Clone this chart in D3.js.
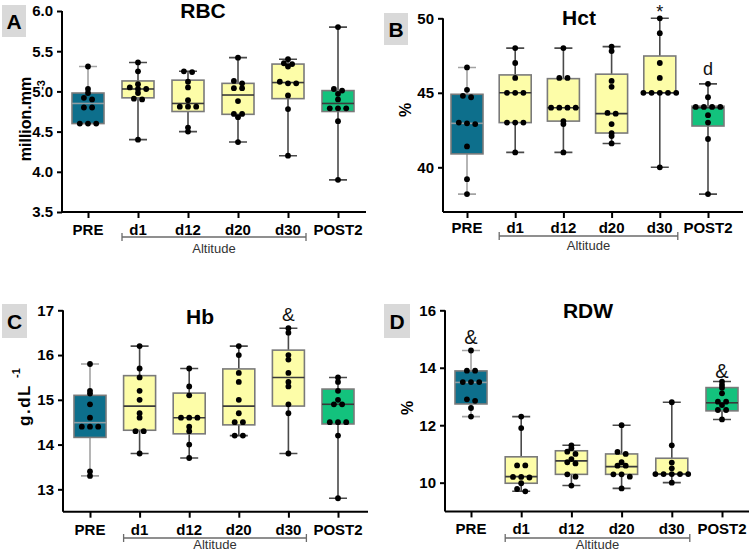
<!DOCTYPE html>
<html><head><meta charset="utf-8">
<script src="https://cdn.jsdelivr.net/npm/d3@7"></script>
<style>
html,body{margin:0;padding:0;background:#fff;}
svg{display:block;font-family:"Liberation Sans",Arial,sans-serif;}
</style></head>
<body>
<svg id="chart" width="749" height="552"></svg>
<script>
const categories = ["PRE","d1","d12","d20","d30","POST2"];
const groupLabel = "Altitude";

const rbcValues = [
  [5.31,5.03,4.98,4.92,4.90,4.80,4.80,4.60,4.60,4.60],
  [5.36,5.25,5.09,5.05,5.03,5.03,4.98,4.91,4.90,4.40],
  [5.25,5.24,5.12,5.05,4.89,4.81,4.81,4.81,4.55,4.50],
  [5.42,5.13,5.10,5.04,5.04,4.88,4.72,4.72,4.68,4.37],
  [5.40,5.35,5.34,5.31,5.12,5.10,5.10,4.95,4.78,4.20],
  [5.80,5.03,5.01,4.97,4.90,4.79,4.79,4.79,4.63,3.90]
];
const rbcBox = [[4.60,4.85,4.98],[4.92,5.03,5.13],[4.75,4.85,5.14],[4.715,4.955,5.10],[4.91,5.11,5.34],[4.75,4.85,5.01]];
const rbcTicks = [3.5,4.0,4.5,5.0,5.5,6.0];

const hctValues = [
  [46.7,45.2,44.8,44.7,43.0,42.95,42.9,41.4,39.2,38.2],
  [48,47,46,45,45,45,43,43,43,41],
  [48,46,46,44,44,44,44,43.1,42.9,41],
  [48.1,47.8,45.8,45.4,43.65,43.6,42.9,42.3,42.1,41.6],
  [50,49,47,46,45,45,45,45,45,40],
  [45.6,44.7,44.05,44.05,44.05,44.05,43.5,43.0,41.9,38.2]
];
const hctBox = [[40.9,42.95,44.9],[43.0,45.0,46.2],[43.1,44.0,45.95],[42.3,43.6,46.25],[45.0,45.0,47.47],[42.77,44.0,44.1]];
const hctTicks = [40,45,50];

const hbValues = [
  [15.8,15.2,15.14,14.9,14.6,14.4,14.4,14.4,13.4,13.3],
  [16.2,15.7,15.5,15.2,15.0,14.7,14.6,14.3,14.3,13.8],
  [15.7,15.3,15.1,14.6,14.6,14.6,14.4,14.3,14.0,13.7],
  [16.2,16.0,15.6,15.4,15.0,14.7,14.5,14.5,14.2,14.2],
  [16.6,16.5,16.0,15.9,15.6,15.4,15.3,14.9,14.7,13.8],
  [15.5,15.4,15.2,15.0,14.9,14.9,14.5,14.5,14.5,14.2,12.8]
];
const hbBox = [[14.16,14.49,15.1],[14.32,14.86,15.54],[14.24,14.6,15.15],[14.44,14.86,15.69],[14.86,15.5,16.11],[14.46,14.9,15.24]];
const hbTicks = [13,14,15,16,17];

const rdwValues = [
  [14.6,13.9,13.9,13.5,13.5,13.5,12.9,12.85,12.6,12.3],
  [12.3,11.9,10.6,10.6,10.2,10.2,10.18,9.98,9.78,9.7],
  [11.3,11.2,11.08,11.0,10.82,10.71,10.67,10.29,10.21,9.9],
  [12.0,11.07,11.0,10.71,10.59,10.59,10.29,10.29,10.21,9.8],
  [12.8,11.3,10.7,10.5,10.3,10.3,10.3,10.3,10.3,10.0],
  [13.52,13.4,13.3,13.11,12.82,12.82,12.7,12.53,12.53,12.2]
];
const rdwBox = [[12.74,13.49,13.89],[9.98,10.21,10.9],[10.29,10.76,11.11],[10.29,10.56,11.0],[10.29,10.3,10.85],[12.5,12.78,13.31]];
const rdwTicks = [10,12,14,16];

const fills = ["#0d6f8c","#fdfda8","#fdfda8","#fdfda8","#fdfda8","#13c27d"];
const svg = d3.select("#chart");

const panels = [
  {letter:"A", title:"RBC", values:rbcValues, box:rbcBox, ticks:rbcTicks, fmt:d3.format(".1f"),
   domain:[3.5,6.0], axX:62, yTop:11, yBot:212, xr:[88,338], axEnd:366,
   lbox:[2,5,24,32], titleX:203, titleY:18, tickY:235, brY:237, altY:253,
   ylab:{x:31, y:119, text:"million.mm", size:16, ls:0, sup:"-3", supX:45, supY:85}, notes:[]},
  {letter:"B", title:"Hct", values:hctValues, box:hctBox, ticks:hctTicks, fmt:d3.format("d"),
   domain:[37,50], axX:443, yTop:18.3, yBot:212, xr:[467,708], axEnd:743,
   lbox:[384,13,24,32], titleX:579, titleY:25, tickY:233, brY:236, altY:250,
   ylab:{x:411, y:110, text:"%", size:16, ls:0}, notes:[{i:4,t:"*",y:18,s:18},{i:5,t:"d",y:75,s:18}]},
  {letter:"C", title:"Hb", values:hbValues, box:hbBox, ticks:hbTicks, fmt:d3.format("d"),
   domain:[12.5,17], axX:63, yTop:310.3, yBot:511.7, xr:[90,338], axEnd:368,
   lbox:[2,304,25,34], titleX:200, titleY:324, tickY:535, brY:538, altY:549,
   ylab:{x:30, y:405, text:"g.dL", size:17, ls:1.5, sup:"-1", supX:20, supY:373}, notes:[{i:4,t:"&",y:321,s:19}]},
  {letter:"D", title:"RDW", values:rdwValues, box:rdwBox, ticks:rdwTicks, fmt:d3.format("d"),
   domain:[9,16], axX:445, yTop:310.3, yBot:511.4, xr:[471,722], axEnd:749,
   lbox:[384,304,26,34], titleX:588, titleY:318, tickY:534, brY:538, altY:549,
   ylab:{x:413, y:408, text:"%", size:16, ls:0}, notes:[{i:0,t:"&",y:344,s:20},{i:5,t:"&",y:378,s:20}]}
];

function swarm(vals, y){
  const pts = vals.map(v=>({v, py:y(v)})).sort((a,b)=>a.py-b.py);
  const rows=[]; let cur=null;
  pts.forEach(p=>{
    if(!cur || p.py-cur.start>2.6){cur={start:p.py, items:[]}; rows.push(cur);}
    cur.items.push(p);
  });
  rows.forEach(r=>{const n=r.items.length; r.items.forEach((p,i)=>{p.dx=(i-(n-1)/2)*8.2;});});
  return pts;
}

panels.forEach(P=>{
  const g = svg.append("g");
  const y = d3.scaleLinear().domain(P.domain).range([P.yBot,P.yTop]);
  const x = d3.scalePoint().domain(categories).range(P.xr);

  g.append("rect").attr("x",P.lbox[0]).attr("y",P.lbox[1]).attr("width",P.lbox[2]).attr("height",P.lbox[3]).attr("fill","#d9d9d9");
  g.append("text").attr("x",P.lbox[0]+P.lbox[2]/2).attr("y",P.lbox[1]+P.lbox[3]/2+7.5)
    .attr("text-anchor","middle").attr("font-size",21).attr("font-weight","bold").text(P.letter);

  g.append("text").attr("x",P.titleX).attr("y",P.titleY).attr("text-anchor","middle")
    .attr("font-size",21).attr("font-weight","bold").text(P.title);

  const ya = g.append("g").attr("transform",`translate(${P.axX},0)`)
    .call(d3.axisLeft(y).tickValues(P.ticks).tickFormat(P.fmt).tickSize(5).tickPadding(4).tickSizeOuter(0));
  ya.select(".domain").attr("stroke","#000").attr("stroke-width",2).attr("d",`M0,${P.yBot}V${P.yTop}`);
  ya.selectAll(".tick line").attr("stroke","#000").attr("stroke-width",2);
  ya.selectAll(".tick text").attr("font-size",15).attr("font-weight","bold").attr("fill","#000")
    .attr("font-family","'Liberation Sans',Arial,sans-serif");

  const xa = g.append("g").attr("transform",`translate(0,${P.yBot})`)
    .call(d3.axisBottom(x).tickSize(6).tickSizeOuter(0).tickFormat(()=>""));
  xa.select(".domain").attr("stroke","#000").attr("stroke-width",2).attr("d",`M${P.axX},0H${P.axEnd}`);
  xa.selectAll(".tick line").attr("stroke","#000").attr("stroke-width",2);
  g.selectAll(".xl").data(categories).join("text").attr("class","xl")
    .attr("x",d=>x(d)).attr("y",P.tickY).attr("text-anchor","middle")
    .attr("font-size",15).attr("font-weight","bold").text(d=>d);

  const bx1 = x("d1")-16, bx2 = x("d30")+18;
  g.append("path").attr("d",`M${bx1},${P.brY-4}V${P.brY+4}M${bx1},${P.brY}H${bx2}M${bx2},${P.brY-4}V${P.brY+4}`)
    .attr("stroke","#6b6b6b").attr("stroke-width",1.3).attr("fill","none");
  g.append("text").attr("x",(bx1+bx2)/2).attr("y",P.altY).attr("text-anchor","middle")
    .attr("font-size",13).attr("fill","#333").text(groupLabel);

  g.append("text").attr("transform",`translate(${P.ylab.x},${P.ylab.y}) rotate(-90)`)
    .attr("text-anchor","middle").attr("font-size",P.ylab.size).attr("letter-spacing",P.ylab.ls)
    .attr("font-weight","bold").text(P.ylab.text);
  if(P.ylab.sup){
    g.append("text").attr("transform",`translate(${P.ylab.supX},${P.ylab.supY}) rotate(-90)`)
      .attr("text-anchor","middle").attr("font-size",11).attr("font-weight","bold").text(P.ylab.sup);
  }

  const bw = 32, cw = 18;
  categories.forEach((c,i)=>{
    const vals = P.values[i];
    const [q1,med,q3] = P.box[i];
    const lo = d3.min(vals), hi = d3.max(vals);
    const cx = x(c);
    const isPre = i===0;
    const wc = isPre ? "#a3a3a3" : "#4a4a4a";
    g.append("path").attr("d",`M${cx},${y(hi)}V${y(q3)}M${cx},${y(q1)}V${y(lo)}M${cx-cw/2},${y(hi)}H${cx+cw/2}M${cx-cw/2},${y(lo)}H${cx+cw/2}`)
      .attr("stroke",wc).attr("stroke-width",1.6).attr("fill","none");
    g.append("rect").attr("x",cx-bw/2).attr("y",y(q3)).attr("width",bw).attr("height",Math.max(0.1,y(q1)-y(q3)))
      .attr("fill",fills[i]).attr("stroke","#7a7a7a").attr("stroke-width",1.6);
    g.append("line").attr("x1",cx-bw/2).attr("x2",cx+bw/2).attr("y1",y(med)).attr("y2",y(med))
      .attr("stroke",isPre?"#8f9ea4":"#3a3a3a").attr("stroke-width",1.6);
    const pts = swarm(vals,y);
    g.selectAll(null).data(pts).join("circle").attr("cx",p=>cx+p.dx).attr("cy",p=>p.py).attr("r",2.9).attr("fill","#000");
  });

  P.notes.forEach(n=>{
    g.append("text").attr("x",x(categories[n.i])).attr("y",n.y).attr("text-anchor","middle")
      .attr("font-size",n.s).attr("fill","#111").text(n.t);
  });
});
</script>
</body></html>
